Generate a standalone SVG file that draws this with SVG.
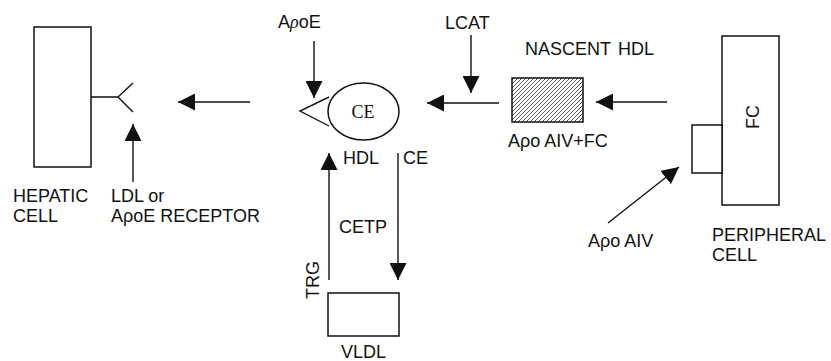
<svg xmlns="http://www.w3.org/2000/svg" width="831" height="361" viewBox="0 0 831 361">
<style>
text{font-family:"Liberation Sans",Arial,sans-serif;font-size:18px;fill:#111}
.serif{font-family:"Liberation Serif","Times New Roman",serif}
.box{fill:#fff;stroke:#111;stroke-width:1.5}
.ln{fill:none;stroke:#111;stroke-width:1.4}
.arr{fill:none;stroke:#111;stroke-width:1.4;marker-end:url(#ah)}
</style>
<defs>
<marker id="ah" markerUnits="userSpaceOnUse" markerWidth="17" markerHeight="17" refX="16" refY="8" orient="auto" viewBox="0 0 16 16">
<path d="M0,0 L16,8 L0,16 z" fill="#111"/>
</marker>
<pattern id="hatch" patternUnits="userSpaceOnUse" width="4" height="4">
<rect width="4" height="4" fill="#fff"/>
<path d="M-1,1 L1,-1 M0,4 L4,0 M3,5 L5,3" stroke="#444" stroke-width="0.9"/>
</pattern>
</defs>
<rect width="831" height="361" fill="#fff"/>

<g id="hepatic-cell">
<rect class="box" x="34" y="27" width="57" height="140"/>
<path class="ln" d="M91,97 L118,97 M133,83 L118,97 L133,112"/>
<text x="13" y="202">HEPATIC</text>
<text x="13" y="222">CELL</text>
</g>

<g id="receptor-label">
<text x="111" y="202">LDL or</text>
<text x="111" y="222">A<tspan>ρ</tspan>oE RECEPTOR</text>
</g>

<g id="hdl-particle">
<ellipse class="box" cx="363.5" cy="111.5" rx="35.5" ry="28.5"/>
<path class="ln" d="M329,97 L300,111 L329,126"/>
<text class="serif" x="363" y="118" text-anchor="middle">CE</text>
</g>

<g id="apoe-label">
<text x="278" y="28">A<tspan class="serif" font-style="italic">ρ</tspan>oE</text>
</g>

<g id="lcat-label">
<text x="445" y="29">LCAT</text>
</g>

<g id="nascent-hdl">
<rect x="512" y="78" width="71" height="44" fill="url(#hatch)" stroke="#111" stroke-width="1.5"/>
<text x="525" y="55">NASCENT</text>
<text x="618" y="55">HDL</text>
<text x="508" y="147">A<tspan>ρ</tspan>o AIV+FC</text>
</g>

<g id="peripheral-cell">
<rect class="box" x="722" y="36" width="57" height="169"/>
<rect class="box" x="692" y="125" width="30" height="48"/>
<text x="759" y="117" text-anchor="middle" transform="rotate(-90 759 117)">FC</text>
<text x="712" y="241">PERIPHERAL</text>
<text x="712" y="261">CELL</text>
</g>

<g id="apo-aiv-label">
<text x="588" y="247">A<tspan>ρ</tspan>o AIV</text>
</g>

<g id="vldl">
<rect class="box" x="328" y="293" width="71" height="43"/>
<text x="341" y="358">VLDL</text>
<text x="319" y="280" text-anchor="middle" transform="rotate(-90 319 280)">TRG</text>
<text x="343" y="164">HDL</text>
<text x="403" y="164">CE</text>
<text x="339" y="233">CETP</text>
</g>

<g id="connectors">
<line class="arr" x1="250" y1="102" x2="178" y2="102"/>
<line class="arr" x1="133" y1="182" x2="133" y2="124"/>
<line class="arr" x1="314" y1="41" x2="314" y2="98"/>
<line class="arr" x1="471" y1="35" x2="471" y2="93"/>
<line class="arr" x1="499" y1="103" x2="427" y2="103"/>
<line class="arr" x1="667" y1="102" x2="596" y2="102"/>
<line class="arr" x1="608" y1="223" x2="679" y2="167"/>
<line class="arr" x1="329" y1="280" x2="329" y2="153"/>
<line class="arr" x1="398" y1="153" x2="398" y2="280"/>
</g>
</svg>
